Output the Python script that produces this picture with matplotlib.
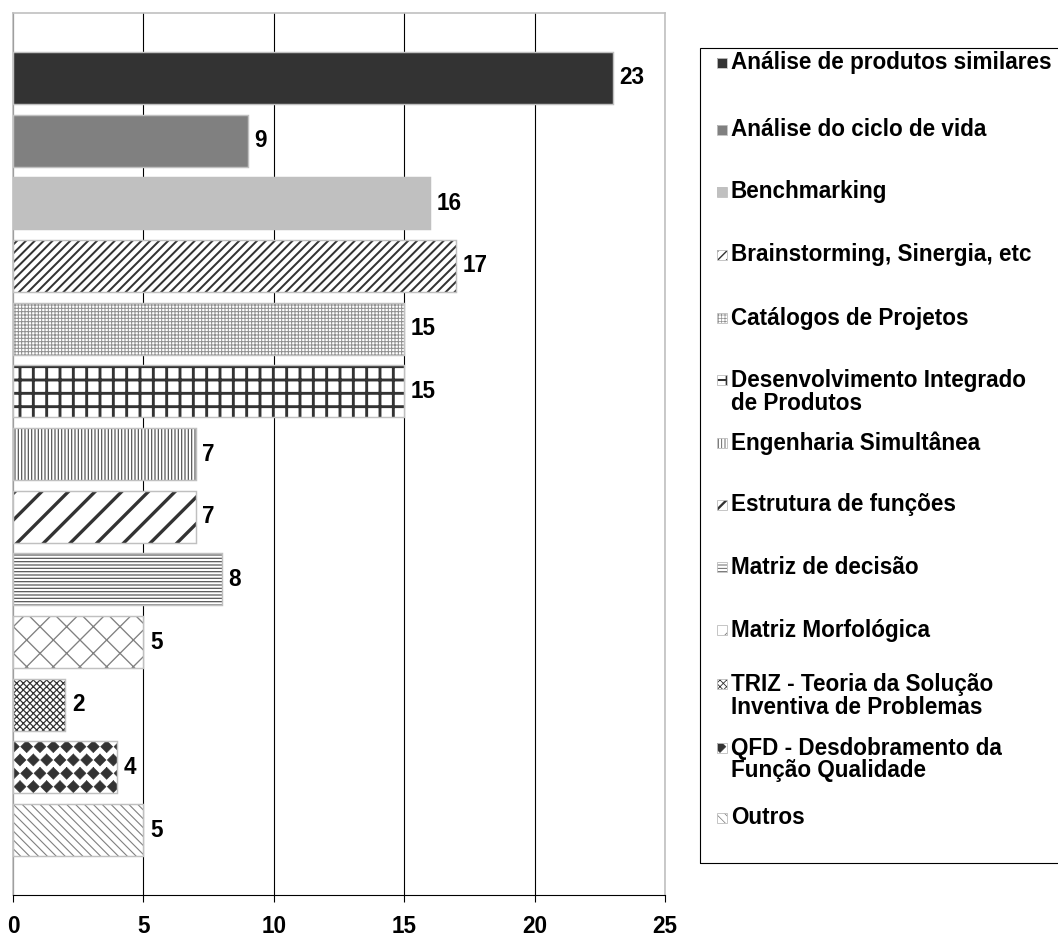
import numpy as np
import matplotlib
matplotlib.use("Agg")
import matplotlib.pyplot as plt
import matplotlib.hatch as mhatch
from matplotlib.path import Path
from matplotlib.patches import Rectangle

# ---------------------------------------------------------------- data
categories = [
    "Análise de produtos similares",
    "Análise do ciclo de vida",
    "Benchmarking",
    "Brainstorming, Sinergia, etc",
    "Catálogos de Projetos",
    "Desenvolvimento Integrado de Produtos",
    "Engenharia Simultânea",
    "Estrutura de funções",
    "Matriz de decisão",
    "Matriz Morfológica",
    "TRIZ - Teoria da Solução Inventiva de Problemas",
    "QFD - Desdobramento da Função Qualidade",
    "Outros",
]
values = [23, 9, 16, 17, 15, 15, 7, 7, 8, 5, 2, 4, 5]
legend_labels = [
    "Análise de produtos similares",
    "Análise do ciclo de vida",
    "Benchmarking",
    "Brainstorming, Sinergia, etc",
    "Catálogos de Projetos",
    "Desenvolvimento Integrado\nde Produtos",
    "Engenharia Simultânea",
    "Estrutura de funções",
    "Matriz de decisão",
    "Matriz Morfológica",
    "TRIZ - Teoria da Solução\nInventiva de Problemas",
    "QFD - Desdobramento da\nFunção Qualidade",
    "Outros",
]
x_ticks = [0, 5, 10, 15, 20, 25]

# ---------------------------------------------------------------- styles
# (face colour, hatch, hatch colour, hatch linewidth in points)
styles = [
    ("#333333", "", "#333333", 1.0),
    ("#808080", "", "#808080", 1.0),
    ("#c0c0c0", "", "#c0c0c0", 1.0),
    ("white", "///", "#333333", 1.8),
    ("white", "++++", "#909090", 0.9),
    ("white", "+", "#333333", 2.6),
    ("white", "||||", "#555555", 1.1),
    ("white", "/", "#333333", 3.0),
    ("white", "----", "#555555", 1.1),
    ("white", "x", "#808080", 1.2),
    ("white", "xxxx", "#333333", 1.1),
    ("white", "*", "#333333", 0.5),
    ("white", "\\\\\\", "#808080", 1.0),
]


class _Diamonds(mhatch.Shapes):
    """Staggered rows of filled diamonds (used in place of the star hatch)."""
    size = 0.45
    filled = True

    def __init__(self, hatch, density):
        # rows must be even for the Shapes vertex bookkeeping
        self.num_rows = hatch.count("*") * 6
        self.shape_vertices = np.array(
            [[0.0, 1.0], [-1.0, 0.0], [0.0, -1.0], [1.0, 0.0], [0.0, 1.0]])
        self.shape_codes = np.full(len(self.shape_vertices), Path.LINETO,
                                   dtype=Path.code_type)
        self.shape_codes[0] = Path.MOVETO
        super().__init__(hatch, density)


try:
    mhatch._hatch_types = [(_Diamonds if t is mhatch.Stars else t)
                           for t in mhatch._hatch_types]
except Exception:
    pass

# ---------------------------------------------------------------- figure
DPI = 80
W, H = 1058, 936
plt.rcParams["font.family"] = ["Liberation Sans", "DejaVu Sans"]
plt.rcParams["font.weight"] = "bold"
plt.rcParams["hatch.linewidth"] = 1.2

FS = 20.3  # text size in points

fig = plt.figure(figsize=(W / DPI, H / DPI), dpi=DPI)
fig.patch.set_facecolor("white")

ax_left, ax_right, ax_top, ax_bottom = 13, 665, 13, 895
ax = fig.add_axes([ax_left / W, 1 - ax_bottom / H,
                   (ax_right - ax_left) / W, (ax_bottom - ax_top) / H])

pos = np.arange(len(values))
faces = [s[0] for s in styles]
hcols = [s[2] for s in styles]
bar_h = 0.83

bars = ax.barh(pos, values, height=bar_h, color=faces, edgecolor=hcols,
               linewidth=0, zorder=2)
for bar, st in zip(bars, styles):
    plt.rcParams["hatch.linewidth"] = st[3]
    if st[1]:
        bar.set_hatch(st[1])
    if hasattr(bar, "set_hatch_linewidth"):
        bar.set_hatch_linewidth(st[3])
plt.rcParams["hatch.linewidth"] = 1.2

# light grey outline on every bar
ax.barh(pos, values, height=bar_h, fill=False, edgecolor="#c0c0c0",
        linewidth=1.3, zorder=3)

# value labels
for p, v in zip(pos, values):
    ax.annotate(str(v), xy=(v, p), xytext=(6.0, 0), textcoords="offset points",
                ha="left", va="center", fontsize=FS, fontweight="bold",
                color="black")

ax.set_xlim(0, 25)
ax.set_ylim(len(values) - 1 + 1.035, -1.035)
ax.set_xticks(x_ticks)
ax.set_xticklabels([str(t) for t in x_ticks])
ax.set_yticks([])
ax.tick_params(axis="x", direction="out", length=6.3, width=1.0,
               color="black", pad=11.5, labelsize=FS)
for lab in ax.get_xticklabels():
    lab.set_fontweight("bold")

ax.set_axisbelow(True)
ax.xaxis.grid(True, color="black", linewidth=1.0)
for side in ("top", "right", "left"):
    ax.spines[side].set_color("#c0c0c0")
    ax.spines[side].set_linewidth(1.5)
ax.spines["bottom"].set_color("black")
ax.spines["bottom"].set_linewidth(1.0)

# ---------------------------------------------------------------- legend
leg_box = Rectangle((700 / W, 1 - 863 / H), 420 / W, (863 - 48) / H,
                    transform=fig.transFigure, fill=False,
                    edgecolor="black", linewidth=1.0)
fig.add_artist(leg_box)

leg_y = [63, 130, 192, 255, 318, 380, 443, 505, 567, 630, 684, 748, 818]
line_gap = 23
mk_size = 10
for label, st, yc in zip(legend_labels, styles, leg_y):
    plt.rcParams["hatch.linewidth"] = st[3] * 0.7
    corner = (717 / W, 1 - (yc + mk_size / 2) / H)
    mk = Rectangle(corner, mk_size / W, mk_size / H,
                   transform=fig.transFigure, facecolor=st[0],
                   edgecolor=st[2], hatch=st[1] or None, linewidth=0)
    fig.add_artist(mk)
    fig.add_artist(Rectangle(corner, mk_size / W, mk_size / H,
                             transform=fig.transFigure, fill=False,
                             edgecolor="#c0c0c0", linewidth=0.8))
    for k, line in enumerate(label.split("\n")):
        fig.text(731 / W, 1 - (yc + k * line_gap) / H, line,
                 ha="left", va="center", fontsize=FS, fontweight="bold",
                 color="black")
plt.rcParams["hatch.linewidth"] = 1.2

fig.savefig("out.png", dpi=DPI, facecolor="white")
